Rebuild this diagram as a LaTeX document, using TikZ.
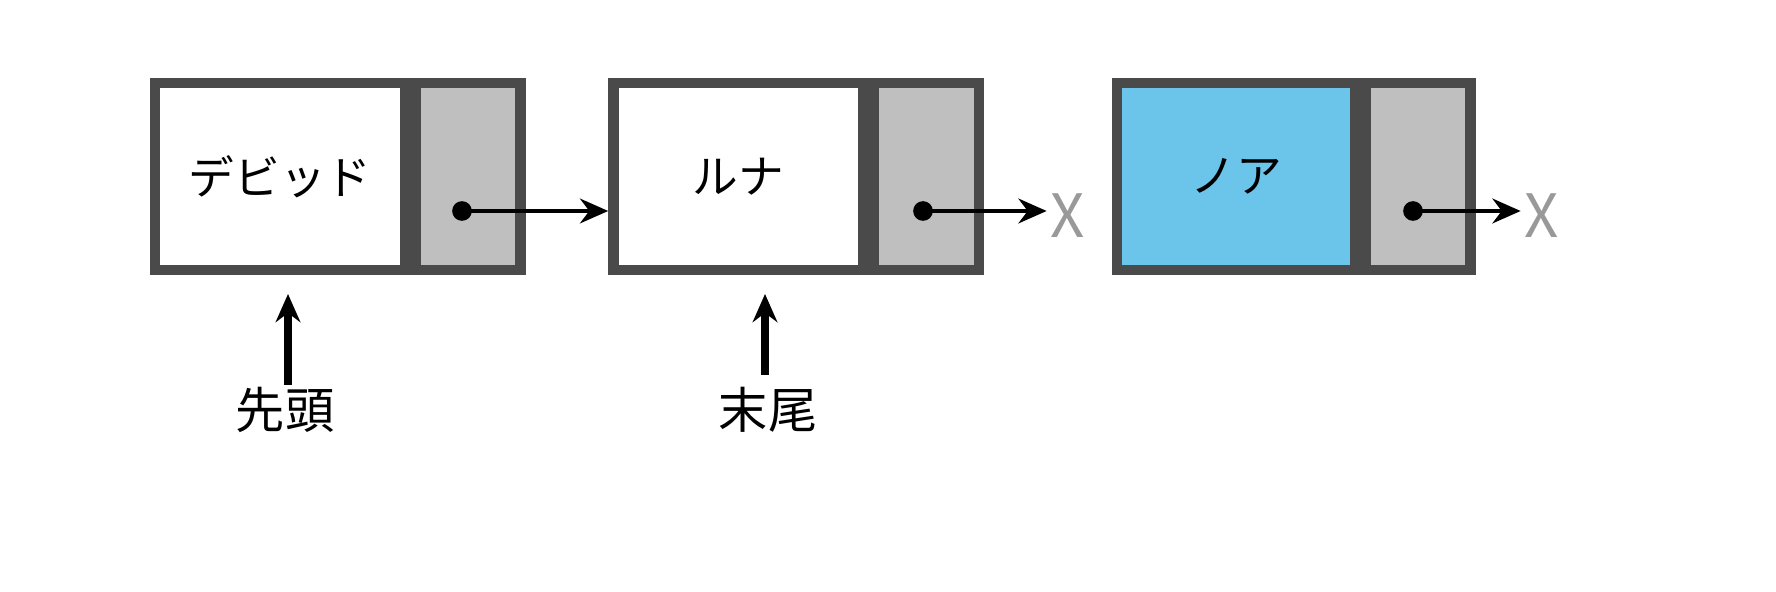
\documentclass[tikz,border=0pt]{standalone}
\usepackage{fontspec}
\setmainfont{Noto Sans CJK JP}
\usetikzlibrary{arrows.meta,positioning}
\definecolor{frame}{HTML}{4A4A4A}
\definecolor{ptrgray}{HTML}{BFBFBF}
\definecolor{nodeblue}{HTML}{6BC4EA}

\begin{document}
\begin{tikzpicture}
[x=1cm,y=1cm,>={Stealth[length=8pt,width=7pt]},node distance=0cm]
  \tikzstyle{data}=[draw=frame,line width=3pt,fill=white,minimum width=2.5cm,minimum height=1.87cm,inner sep=0pt,font=\fontsize{13}{16}\selectfont]
  \tikzstyle{ptr}=[draw=frame,line width=3pt,fill=ptrgray,minimum width=1.05cm,minimum height=1.87cm,inner sep=0pt]
  \tikzstyle{nil}=[text=gray!80,font=\fontsize{17}{20}\selectfont,inner sep=1pt]
  \tikzstyle{lbl}=[font=\fontsize{14}{17}\selectfont,inner sep=1pt]

  \node[data] (D1) at (2.80,4.155) {デビッド};
  \node[ptr] (P1) [right=of D1] {};
  \node[data] (D2) at (7.385,4.155) {ルナ};
  \node[ptr] (P2) [right=of D2] {};
  \node[data,fill=nodeblue,minimum width=2.38cm] (D3) at (12.36,4.155) {ノア};
  \node[ptr] (P3) [right=of D3] {};

  \node[nil] (X2) at (10.68,3.76) {X};
  \node[nil] (X3) at (15.42,3.76) {X};
  \node[lbl] (H) at (2.85,1.82) {先頭};
  \node[lbl] (T) at (7.68,1.82) {末尾};

  \fill (4.62,3.81) coordinate (c1) circle (2.8pt);
  \fill (9.23,3.81) coordinate (c2) circle (2.8pt);
  \fill (14.13,3.81) coordinate (c3) circle (2.8pt);
  \draw[->,line width=1.4pt] (c1) -- (D2.west |- c1);
  \draw[->,line width=1.4pt] (c2) -- (X2.west |- c2);
  \draw[->,line width=1.4pt] (c3) -- (X3.west |- c3);
  \coordinate (h0) at (2.88,2.07);
  \coordinate (t0) at (7.65,2.17);
  \draw[->,line width=2pt] (h0) -- (2.88,2.98);
  \draw[->,line width=2pt] (t0) -- (7.65,2.98);

  \pgfresetboundingbox
  \useasboundingbox (0,0) rectangle (17.76,5.92);
\end{tikzpicture}
\end{document}
